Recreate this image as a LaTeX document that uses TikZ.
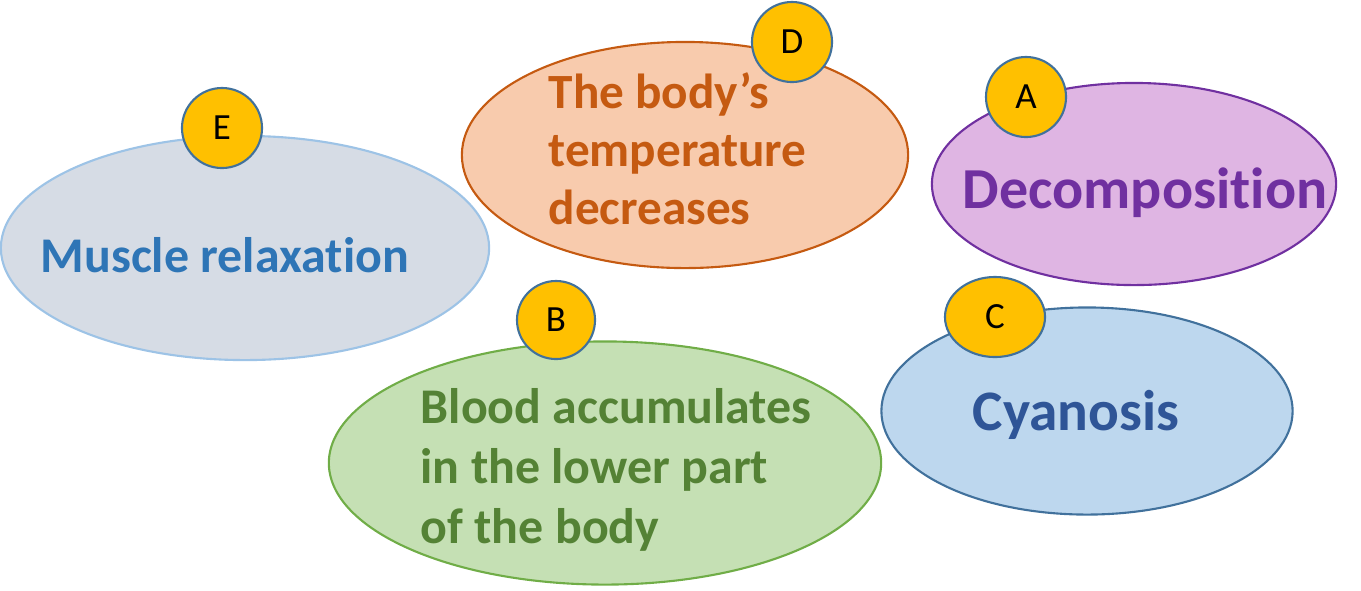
\documentclass[tikz,border=0pt]{standalone}
\usepackage{fontspec}
\setmainfont{Carlito}[Ligatures=NoCommon]
\usetikzlibrary{shapes.geometric}
\definecolor{tagfill}{HTML}{FFC000}
\definecolor{tagline}{HTML}{41719C}
\definecolor{relaxfill}{HTML}{D6DCE5}
\definecolor{relaxline}{HTML}{9DC3E6}
\definecolor{relaxtext}{HTML}{2E75B6}
\definecolor{tempfill}{HTML}{F8CBAD}
\definecolor{templine}{HTML}{C55A11}
\definecolor{decompfill}{HTML}{DFB5E3}
\definecolor{decompline}{HTML}{7030A0}
\definecolor{bloodfill}{HTML}{C5E0B4}
\definecolor{bloodline}{HTML}{70AD47}
\definecolor{bloodtext}{HTML}{548235}
\definecolor{cyanfill}{HTML}{BDD7EE}
\definecolor{cyanline}{HTML}{41719C}
\definecolor{cyantext}{HTML}{2F5597}
\begin{document}
\begin{tikzpicture}[x=0.01cm,y=-0.01cm,
	blob/.style={ellipse,draw,line width=0.6pt,inner sep=0pt},
	tag/.style={ellipse,draw=tagline,fill=tagfill,line width=0.6pt,inner sep=0pt,minimum width=0.8cm,minimum height=0.8cm,font=\fontsize{10.5}{12}\selectfont},
	txt/.style={inner sep=0pt,align=left,font=\bfseries\fontsize{14.2}{17}\selectfont}]
	\useasboundingbox (0,0) rectangle (1361,590);
	\node[blob,fill=relaxfill,draw=relaxline,minimum width=4.88cm,minimum height=2.24cm] (relax) at (245,248) {};
	\node[blob,fill=tempfill,draw=templine,minimum width=4.46cm,minimum height=2.26cm] (temp) at (685,155) {};
	\node[blob,fill=decompfill,draw=decompline,minimum width=4.04cm,minimum height=2.02cm] (decomp) at (1134,184) {};
	\node[blob,fill=bloodfill,draw=bloodline,minimum width=5.52cm,minimum height=2.43cm] (blood) at (605,463) {};
	\node[blob,fill=cyanfill,draw=cyanline,minimum width=4.11cm,minimum height=2.07cm] (cyan) at (1087,411) {};
	\node[txt,text=relaxtext,anchor=base west] (relax-t) at (40,272) {Muscle relaxation};
	\node[txt,text=templine,anchor=west,font=\bfseries\fontsize{14}{16.5}\selectfont] (temp-t) at (548,149) {The body’s\\temperature\\decreases};
	\node[txt,text=decompline,anchor=base west,font=\bfseries\fontsize{16.5}{18}\selectfont] (decomp-t) at (962,208) {Decomposition};
	\node[txt,text=bloodtext,anchor=west,font=\bfseries\fontsize{14.2}{17}\selectfont] (blood-t) at (420,470) {Blood accumulates\\in the lower part\\of the body};
	\node[txt,text=cyantext,anchor=base west,font=\bfseries\fontsize{16.3}{19}\selectfont] (cyan-t) at (972,430) {Cyanosis};
	\node[tag] (e) at (222,128) {E};
	\node[tag] (d) at (792,42) {D};
	\node[tag] (a) at (1026,97) {A};
	\node[tag,minimum size=0.78cm] (b) at (556,320) {B};
	\node[tag,minimum width=1cm] (c) at (995,317) {C};
\end{tikzpicture}
\end{document}
